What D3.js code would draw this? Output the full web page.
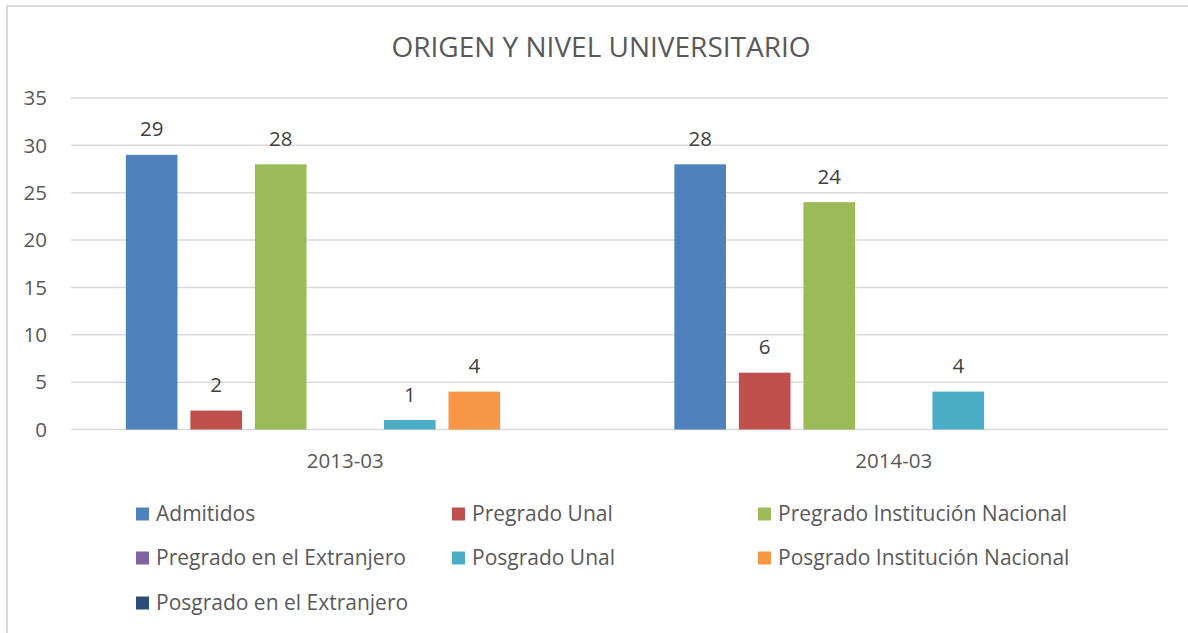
<!DOCTYPE html>
<meta charset="utf-8">
<title>Origen y nivel universitario</title>
<script src="https://d3js.org/d3.v7.min.js"></script>
<style>
  body { margin: 0; background: #fff; }
  svg { display: block; font-family: "Open Sans", sans-serif; }
  .grid line { stroke: #d9d9d9; stroke-width: 1.5px; }
  .tick-label { fill: #595959; font-size: 20.5px; }
  .value { fill: #404040; font-size: 20.5px; text-anchor: middle; }
  .legend text { fill: #595959; font-size: 21px; }
</style>
<body>
<svg width="1188" height="633"></svg>
<script>
  var categories = ["2013-03", "2014-03"];
  var series = ["Admitidos", "Pregrado Unal", "Pregrado Institución Nacional",
    "Pregrado en el Extranjero", "Posgrado Unal", "Posgrado Institución Nacional",
    "Posgrado en el Extranjero"];
  // null = empty cell (no bar, no label)
  var values2013 = [29, 2, 28, null, 1, 4, null];
  var values2014 = [28, 6, 24, null, 4, null, null];
  var yTicks = [0, 5, 10, 15, 20, 25, 30, 35];
  var colors = ["#4F81BD", "#C0504D", "#9BBB59", "#8064A2", "#4BACC6", "#F79646", "#2C4D75"];

  var table = [values2013, values2014];

  var svg = d3.select("svg");

  // outer chart border
  svg.append("rect")
    .attr("x", 7).attr("y", 6)
    .attr("width", 1300).attr("height", 800)
    .attr("fill", "none")
    .attr("stroke", "#d9d9d9")
    .attr("stroke-width", 2);

  svg.append("text")
    .attr("x", 601).attr("y", 57)
    .attr("text-anchor", "middle")
    .attr("fill", "#595959")
    .style("font-size", "28px")
    .text("ORIGEN Y NIVEL UNIVERSITARIO");

  var y = d3.scaleLinear().domain([0, 35]).range([429.5, 98]);

  var x0 = d3.scaleBand()
    .domain(categories)
    .range([71, 1168])
    .paddingInner(0.2)
    .paddingOuter(0.1);

  var x1 = d3.scaleBand()
    .domain(series)
    .range([0, x0.bandwidth()])
    .paddingInner(0.2);

  var color = d3.scaleOrdinal().domain(series).range(colors);

  // gridlines
  svg.append("g").attr("class", "grid")
    .selectAll("line")
    .data(yTicks)
    .enter().append("line")
    .attr("x1", 71).attr("x2", 1168)
    .attr("y1", function (d) { return y(d); })
    .attr("y2", function (d) { return y(d); });

  svg.append("g")
    .selectAll("text")
    .data(yTicks)
    .enter().append("text")
    .attr("class", "tick-label")
    .attr("x", 47)
    .attr("y", function (d) { return y(d); })
    .attr("dy", "0.35em")
    .attr("text-anchor", "end")
    .text(function (d) { return d; });

  var groups = svg.append("g")
    .selectAll("g")
    .data(categories)
    .enter().append("g")
    .attr("transform", function (d) { return "translate(" + x0(d) + ",0)"; });

  var cells = groups.selectAll("g")
    .data(function (d, i) {
      return series.map(function (s, j) { return { key: s, value: table[i][j] }; })
        .filter(function (c) { return c.value !== null; });
    })
    .enter().append("g");

  cells.append("rect")
    .attr("x", function (d) { return x1(d.key); })
    .attr("width", x1.bandwidth())
    .attr("y", function (d) { return y(d.value); })
    .attr("height", function (d) { return y(0) - y(d.value); })
    .attr("fill", function (d) { return color(d.key); });

  cells.append("text")
    .attr("class", "value")
    .attr("x", function (d) { return x1(d.key) + x1.bandwidth() / 2; })
    .attr("y", function (d) { return y(d.value) - 18.5; })
    .text(function (d) { return d.value; });

  // category labels
  svg.append("g")
    .selectAll("text")
    .data(categories)
    .enter().append("text")
    .attr("class", "tick-label")
    .attr("x", function (d) { return x0(d) + x0.bandwidth() / 2; })
    .attr("y", 468)
    .attr("text-anchor", "middle")
    .text(function (d) { return d; });

  // legend, three columns
  var legendX = [136, 452, 758];
  var legendY = [514, 558, 603];
  var legend = svg.append("g").attr("class", "legend")
    .selectAll("g")
    .data(series)
    .enter().append("g")
    .attr("transform", function (d, i) {
      return "translate(" + legendX[i % 3] + "," + legendY[Math.floor(i / 3)] + ")";
    });

  legend.append("rect")
    .attr("x", 0).attr("y", -6.5)
    .attr("width", 13).attr("height", 13)
    .attr("fill", function (d) { return color(d); });

  legend.append("text")
    .attr("x", 20)
    .attr("dy", "0.35em")
    .text(function (d) { return d; });
</script>
</body>
